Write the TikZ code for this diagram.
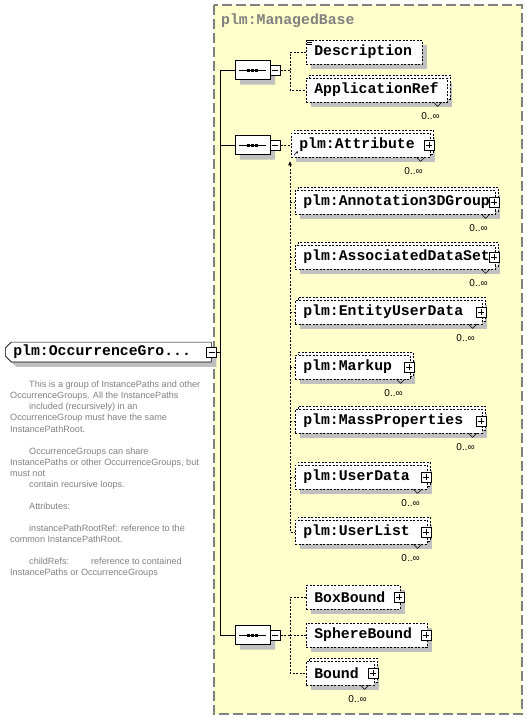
\documentclass[tikz,border=0pt]{standalone}
\usepackage{fontspec}
\setmainfont{Liberation Sans}
\newfontfamily\elemfont{Liberation Mono}
\usepackage{tikz}
\usetikzlibrary{shapes.misc,shadows,arrows.meta,positioning}

\definecolor{groupfill}{RGB}{255,255,204}
\definecolor{shadegray}{RGB}{192,192,192}
\definecolor{docgray}{RGB}{128,128,128}

\tikzset{
  elem/.style={draw, fill=white, line width=0.6pt, dash pattern=on 2pt off 1.5pt,
    anchor=west, minimum height=24pt, inner xsep=8pt, inner ysep=0pt, align=left,
    text width=#1, font=\elemfont\bfseries\fontsize{14.8}{16}\selectfont,
    drop shadow={shadow xshift=5pt, shadow yshift=-5pt, fill=shadegray, opacity=1}},
  multi/.style={elem=#1,
    copy shadow={shadow xshift=3pt, shadow yshift=3pt, draw=black, fill=white,
      line width=0.6pt, dash pattern=on 2pt off 1.5pt}},
  pmbox/.style={draw, fill=white, solid, line width=0.6pt, shape=rectangle,
    minimum size=10pt, inner sep=0pt},
  collapse/.style={pmbox, path picture={
    \draw[black, line width=0.6pt] ([xshift=2pt]path picture bounding box.west) -- ([xshift=-2pt]path picture bounding box.east);}},
  expand/.style={pmbox, path picture={
    \draw[black, line width=0.6pt] ([xshift=2pt]path picture bounding box.west) -- ([xshift=-2pt]path picture bounding box.east);
    \draw[black, line width=0.6pt] ([yshift=2pt]path picture bounding box.south) -- ([yshift=-2pt]path picture bounding box.north);}},
  seqbox/.style={chamfered rectangle, chamfered rectangle xsep=6pt, chamfered rectangle ysep=5pt,
    draw, fill=white, line width=0.7pt, minimum width=35pt, minimum height=19pt, inner sep=0pt,
    drop shadow={shadow xshift=5pt, shadow yshift=-5pt, fill=shadegray, opacity=1},
    path picture={
      \draw[black, line width=0.6pt] ([xshift=4pt]path picture bounding box.west) -- ([xshift=-4pt]path picture bounding box.east);
      \foreach \d in {-4,0,4}
        \fill[black] ([xshift=\d pt]path picture bounding box.center) +(-1.5,-1.5) rectangle +(1.5,1.5);}},
  rootbox/.style={chamfered rectangle, chamfered rectangle corners={north west,south west},
    chamfered rectangle xsep=3pt, chamfered rectangle ysep=3pt,
    draw, fill=white, line width=0.7pt, anchor=west, minimum height=19pt, inner xsep=5pt, inner ysep=0pt,
    text width=190pt, align=left, font=\elemfont\bfseries\fontsize{14.8}{16}\selectfont,
    drop shadow={shadow xshift=5pt, shadow yshift=-5pt, fill=shadegray, opacity=1}},
  tree/.style={line width=0.8pt},
  conn/.style={line width=0.7pt, dash pattern=on 2pt off 1.5pt},
  occ/.style={font=\fontsize{10}{11}\selectfont, inner sep=0pt},
  doc/.style={anchor=north west, inner sep=0pt, align=left, text=docgray,
    font=\fontsize{9.1}{11.06}\selectfont},
}

\begin{document}
\begin{tikzpicture}[x=1pt, y=-1pt]
\useasboundingbox (0,0) rectangle (530,720);

% group frame
\draw[fill=groupfill, draw=docgray, line width=1.2pt, dash pattern=on 10pt off 4pt] (214,5) rectangle (522,714);
\node[anchor=west, inner sep=0pt, text=docgray, font=\elemfont\bfseries\fontsize{14.8}{16}\selectfont]
  (base-title) at (221,21) {plm:ManagedBase};

% root element
\node[rootbox] (root) at (5,352) {plm:OccurrenceGro...};
\node[collapse] (root-m) at (root.east) {};
\node[doc] (root-doc) at (10,381) {%
\hspace*{19pt}This is a group of InstancePaths and other\\
OccurrenceGroups. All the InstancePaths\\
\hspace*{19pt}included (recursively) in an\\
OccurrenceGroup must have the same\\
InstancePathRoot.\\[11.06pt]
\hspace*{19pt}OccurrenceGroups can share\\
InstancePaths or other OccurrenceGroups, but\\
must not\\
\hspace*{19pt}contain recursive loops.\\[11.06pt]
\hspace*{19pt}Attributes:\\[11.06pt]
\hspace*{19pt}instancePathRootRef: reference to the\\
common InstancePathRoot.\\[11.06pt]
\hspace*{19pt}childRefs:\hspace{22pt}reference to contained\\
InstancePaths or OccurrenceGroups};

% sequences
\node[seqbox] (seq1) at (252.5,70) {};
\node[collapse] (seq1-m) at ([xshift=5pt]seq1.east) {};
\node[seqbox] (seq2) at (252.5,145) {};
\node[collapse] (seq2-m) at ([xshift=5pt]seq2.east) {};
\node[seqbox] (seq3) at (252.5,635) {};
\node[collapse] (seq3-m) at ([xshift=5pt]seq3.east) {};

\coordinate (trunk) at (220,0);
\coordinate (bus) at (290,0);

% first sequence
\node[elem=100pt] (desc) at (306,52) {Description};
\node[multi=125pt] (app) at (306,90) {ApplicationRef};
\foreach \k in {0,2,4}
  \draw[line width=0.5pt] ([xshift=1pt, yshift={-(\k+1)*1pt}]desc.north west) -- ++(5,0);

% second sequence
\node[multi=123pt] (attr) at (291,145) {plm:Attribute};
\node[multi=184pt] (anno) at (295,202) {plm:Annotation3DGroup};
\node[multi=184pt] (assoc) at (295,257) {plm:AssociatedDataSet};
\node[multi=171pt] (entity) at (295,312) {plm:EntityUserData};
\node[multi=99pt] (markup) at (295,367) {plm:Markup};
\node[multi=171pt] (mass) at (295,421) {plm:MassProperties};
\node[multi=116pt] (udata) at (295,477) {plm:UserData};
\node[multi=116pt] (ulist) at (295,532) {plm:UserList};
\draw[line width=0.6pt, -{Stealth[length=2.5pt, width=2.5pt]}] ([shift={(3pt,2pt)}]attr.south west) -- ++(4,-4);

% third sequence
\node[elem=78pt] (boxb) at (306,597) {BoxBound};
\node[elem=105pt] (sphere) at (306,635) {SphereBound};
\node[multi=52pt] (bound) at (306,673) {Bound};

% expand boxes
\foreach \e in {attr,anno,assoc,entity,markup,mass,udata,ulist,boxb,sphere,bound}
  \node[expand] (\e-p) at ([xshift=-1.5pt]\e.east) {};

% occurrence marks
\foreach \e in {app,attr,anno,assoc,entity,markup,mass,udata,ulist,bound} {
  \draw[line width=0.5pt] ([xshift=-14pt]\e.south east) -- ++(4,4) -- ++(4,-4);
  \node[occ] (\e-occ) at ([xshift=-17pt, yshift=-14pt]\e.south east) {0..∞};
}

% trunk
\draw[tree] (root-m.east) -- (root-m.east -| trunk);
\draw[tree] (seq1.west -| trunk) -- (seq3.west -| trunk);
\foreach \s in {seq1,seq2,seq3}
  \draw[tree] (\s.west -| trunk) -- (\s.west);

% connectors
\draw[conn] (seq1-m.east) -- (seq1-m.east -| bus);
\draw[conn] (desc.west) -- (desc.west -| bus) -- (app.west -| bus) -- (app.west);
\draw[conn] (seq2-m.east) -- (attr.west);
\path (attr.south -| bus) ++(0,4) coordinate (bustop);
\draw[conn, {Triangle[length=4pt, width=3.5pt]}-] (bustop) -- (ulist.west -| bus) -- (ulist.west);
\foreach \e in {anno,assoc,entity,markup,mass,udata}
  \draw[conn] (\e.west -| bus) -- (\e.west);
\draw[conn] (seq3-m.east) -- (seq3-m.east -| bus);
\draw[conn] (boxb.west) -- (boxb.west -| bus) -- (bound.west -| bus) -- (bound.west);
\draw[conn] (sphere.west -| bus) -- (sphere.west);
\end{tikzpicture}
\end{document}
